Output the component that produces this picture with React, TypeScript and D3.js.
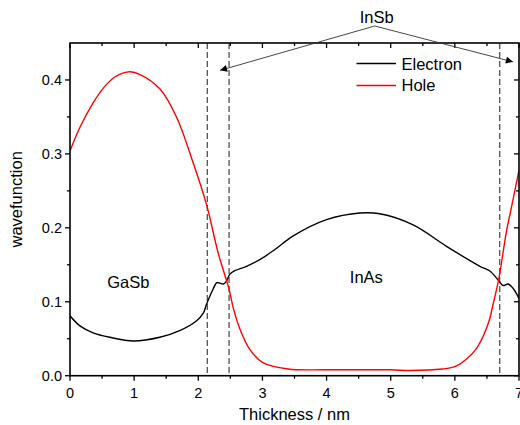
import React from 'react';
import * as d3 from 'd3';

// electron / hole wavefunction
const electronX = [0, 0.16, 0.36, 0.62, 0.99, 1.4, 1.71, 1.97, 2.08, 2.13, 2.23, 2.29, 2.34, 2.39, 2.44, 2.49, 2.57, 2.75, 2.96, 3.2, 3.48, 4.0, 4.52, 4.83, 5.35, 5.87, 6.39, 6.54, 6.67, 6.75, 6.83, 6.9, 6.98, 7.0];
const electronY = [0.081, 0.067, 0.058, 0.052, 0.047, 0.052, 0.061, 0.074, 0.085, 0.097, 0.117, 0.126, 0.125, 0.124, 0.128, 0.137, 0.142, 0.148, 0.157, 0.171, 0.189, 0.211, 0.22, 0.219, 0.204, 0.175, 0.148, 0.142, 0.13, 0.122, 0.124, 0.119, 0.108, 0.104];

const holeX = [0, 0.15, 0.36, 0.52, 0.7, 0.91, 1.1, 1.4, 1.66, 1.92, 2.13, 2.31, 2.48, 2.55, 2.65, 2.8, 3.0, 3.4, 4.0, 5.0, 5.3, 5.8, 6.02, 6.2, 6.33, 6.45, 6.54, 6.6, 6.69, 6.8, 6.9, 7.0];
const holeY = [0.304, 0.335, 0.369, 0.389, 0.404, 0.411, 0.407, 0.388, 0.35, 0.288, 0.231, 0.166, 0.117, 0.09, 0.063, 0.036, 0.018, 0.009, 0.008, 0.008, 0.007, 0.009, 0.013, 0.024, 0.036, 0.055, 0.076, 0.098, 0.133, 0.193, 0.235, 0.278];

// layer boundaries (dashed lines)
const interfaces = [2.14, 2.48, 6.7];

const xMajor = [0, 1, 2, 3, 4, 5, 6, 7];
const xMinor = [0.5, 1.5, 2.5, 3.5, 4.5, 5.5, 6.5];
const yMajor = [0, 0.1, 0.2, 0.3, 0.4];
const yMinor = [0.05, 0.15, 0.25, 0.35];

// InSb annotation: apex and the two arrow tips, in data units
const insbApex = { x: 4.75, y: 0.473 };
const insbTips = [{ x: 2.34, y: 0.413 }, { x: 6.905, y: 0.4245 }];

const W = 520;
const H = 425;
const margin = { top: 43, right: 1, bottom: 48, left: 70 };

const FONT = '"Liberation Sans", Arial, Helvetica, sans-serif';

export default function App() {
  const x = d3.scaleLinear().domain([0, 7]).range([margin.left, W - margin.right]);
  const y = d3.scaleLinear().domain([0, 0.45]).range([H - margin.bottom - 1.3, margin.top]);

  const x0 = x(0), x1 = x(7), y0 = y(0), y1 = y(0.45);

  const line = d3.line<[number, number]>()
    .x(d => x(d[0]))
    .y(d => y(d[1]))
    .curve(d3.curveCatmullRom.alpha(0.5));

  const electron = line(electronX.map((v, i) => [v, electronY[i]]) as [number, number][]) || '';
  const hole = line(holeX.map((v, i) => [v, holeY[i]]) as [number, number][]) || '';

  const apex = { x: x(insbApex.x), y: y(insbApex.y) };

  return (
    <svg width={W} height={H} style={{ position: 'absolute', left: 0, top: 0, background: '#fff' }} fontFamily={FONT}>
      <defs>
        <marker id="arr" viewBox="0 0 10 10" refX="10" refY="5" markerWidth="9" markerHeight="7" orient="auto" markerUnits="userSpaceOnUse">
          <path d="M0,0 L10,5 L0,10 z" fill="#000" />
        </marker>
        <clipPath id="plot">
          <rect x={x0} y={y1} width={x1 - x0} height={y0 - y1} />
        </clipPath>
      </defs>

      {/* interfaces */}
      {interfaces.map(v => (
        <line key={v} x1={x(v)} x2={x(v)} y1={y1} y2={y0} stroke="#333" strokeWidth={1.1} strokeDasharray="6,3" />
      ))}

      <g clipPath="url(#plot)">
        <path d={electron} fill="none" stroke="#000" strokeWidth={1.4} />
        <path d={hole} fill="none" stroke="#ff0000" strokeWidth={1.4} />
      </g>

      {/* frame */}
      <rect x={x0} y={y1} width={x1 - x0} height={y0 - y1} fill="none" stroke="#000" strokeWidth={1.6} />

      {/* bottom ticks (out) + top ticks (in) */}
      {xMajor.map(v => (
        <g key={'xm' + v}>
          <line x1={x(v)} x2={x(v)} y1={y0} y2={y0 + 5} stroke="#000" strokeWidth={1.3} />
          <line x1={x(v)} x2={x(v)} y1={y1} y2={y1 + 5} stroke="#000" strokeWidth={1.3} />
          <text x={x(v)} y={y0 + 22.5} textAnchor="middle" fontSize={14.5} fill="#000">{v}</text>
        </g>
      ))}
      {xMinor.map(v => (
        <g key={'xn' + v}>
          <line x1={x(v)} x2={x(v)} y1={y0} y2={y0 + 3} stroke="#000" strokeWidth={1.3} />
          <line x1={x(v)} x2={x(v)} y1={y1} y2={y1 + 3} stroke="#000" strokeWidth={1.3} />
        </g>
      ))}

      {/* left ticks (out) + right ticks (in) */}
      {yMajor.map(v => (
        <g key={'ym' + v}>
          <line x1={x0} x2={x0 - 5} y1={y(v)} y2={y(v)} stroke="#000" strokeWidth={1.3} />
          <line x1={x1} x2={x1 - 5} y1={y(v)} y2={y(v)} stroke="#000" strokeWidth={1.3} />
          <text x={x0 - 8} y={y(v) + 5} textAnchor="end" fontSize={14.5} fill="#000">{v.toFixed(1)}</text>
        </g>
      ))}
      {yMinor.map(v => (
        <g key={'yn' + v}>
          <line x1={x0} x2={x0 - 3} y1={y(v)} y2={y(v)} stroke="#000" strokeWidth={1.3} />
          <line x1={x1} x2={x1 - 3} y1={y(v)} y2={y(v)} stroke="#000" strokeWidth={1.3} />
        </g>
      ))}

      {/* axis titles */}
      <text x={(x0 + x1) / 2} y={420} textAnchor="middle" fontSize={16.5} fill="#000">Thickness / nm</text>
      <text transform={`translate(21.5, ${(y0 + y1) / 2 - 10}) rotate(-90)`} textAnchor="middle" fontSize={16.5} fill="#000">wavefunction</text>

      {/* InSb annotation */}
      <text x={apex.x + 2} y={22.5} textAnchor="middle" fontSize={16.5} fill="#000">InSb</text>
      {insbTips.map((t, i) => (
        <line key={i} x1={apex.x} y1={apex.y} x2={x(t.x)} y2={y(t.y)} stroke="#333" strokeWidth={0.9} markerEnd="url(#arr)" />
      ))}

      {/* region labels */}
      <text x={x(0.91)} y={288} textAnchor="middle" fontSize={16.5} fill="#000">GaSb</text>
      <text x={x(4.62)} y={283} textAnchor="middle" fontSize={16.5} fill="#000">InAs</text>

      {/* legend */}
      <line x1={356.5} x2={396} y1={63.5} y2={63.5} stroke="#000" strokeWidth={1.4} />
      <text x={401.5} y={70} fontSize={16.5} fill="#000">Electron</text>
      <line x1={356.5} x2={396} y1={85.5} y2={85.5} stroke="#ff0000" strokeWidth={1.4} />
      <text x={401.5} y={91} fontSize={16.5} fill="#000">Hole</text>
    </svg>
  );
}
